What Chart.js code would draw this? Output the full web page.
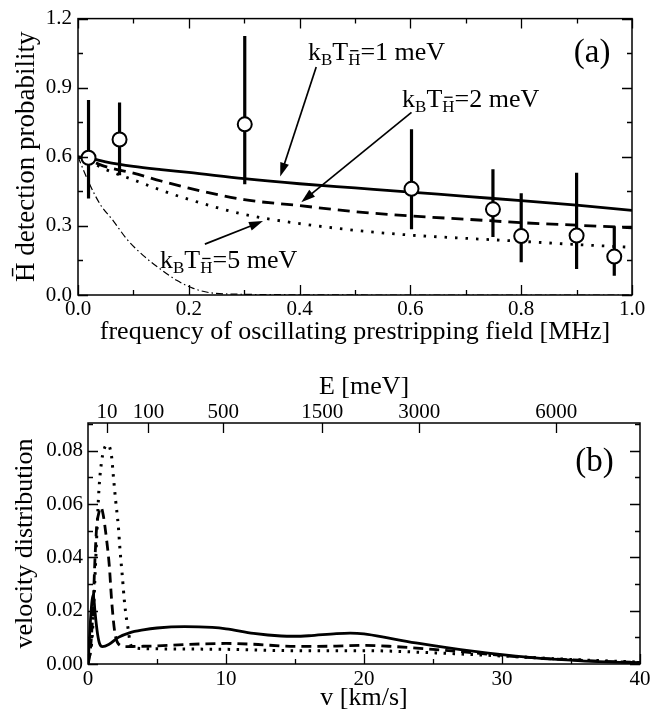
<!DOCTYPE html>
<html>
<head>
<meta charset="utf-8">
<script src="https://cdn.jsdelivr.net/npm/chart.js@4.4.1/dist/chart.umd.min.js"></script>
<style>
  body { margin: 0; background: #fff; width: 662px; height: 715px; overflow: hidden; position: relative; }
  canvas { position: absolute; left: 0; }
  #chartA { top: 0; }
  #chartB { top: 360px; }
</style>
</head>
<body>
<canvas id="chartA" width="662" height="360" style="width:662px;height:360px"></canvas>
<canvas id="chartB" width="662" height="355" style="width:662px;height:355px"></canvas>
<script>
// ---- panel (a): detection probability vs frequency ----
const measFreq = [0.019, 0.075, 0.301, 0.602, 0.749, 0.800, 0.900, 0.968];
const measProb = [0.596, 0.675, 0.741, 0.461, 0.372, 0.256, 0.258, 0.167];
const measLow  = [0.419, 0.520, 0.481, 0.285, 0.252, 0.142, 0.113, 0.084];
const measHigh = [0.847, 0.836, 1.124, 0.720, 0.546, 0.442, 0.531, 0.298];

const curveFreq = [0, 0.02, 0.05, 0.1, 0.15, 0.2, 0.3, 0.4, 0.5, 0.6, 0.7, 0.8, 0.9, 1.0];
const prob1meV  = [0.600, 0.595, 0.578, 0.558, 0.544, 0.532, 0.505, 0.483, 0.465, 0.447, 0.428, 0.410, 0.390, 0.367];
const prob2meV  = [0.600, 0.585, 0.557, 0.529, 0.495, 0.464, 0.414, 0.388, 0.362, 0.343, 0.329, 0.314, 0.303, 0.292];
const prob5meV  = [0.600, 0.580, 0.545, 0.500, 0.455, 0.415, 0.350, 0.310, 0.281, 0.260, 0.246, 0.233, 0.219, 0.207];

const dashDotFreq = [0, 0.02, 0.04, 0.064, 0.088, 0.118, 0.148, 0.178, 0.208, 0.238, 0.3, 0.4, 0.6, 0.8, 1.0];
const dashDotProb = [0.600, 0.486, 0.394, 0.321, 0.243, 0.171, 0.114, 0.064, 0.029, 0.010, 0.003, 0.001, 0, 0, 0];

const freqTicks = [0, 0.1, 0.2, 0.3, 0.4, 0.5, 0.6, 0.7, 0.8, 0.9, 1.0];
const freqLabels = ['0.0', '', '0.2', '', '0.4', '', '0.6', '', '0.8', '', '1.0'];
const probTicks = [0, 0.15, 0.3, 0.45, 0.6, 0.75, 0.9, 1.05, 1.2];
const probLabels = ['0.0', '', '0.3', '', '0.6', '', '0.9', '', '1.2'];

// ---- panel (b): velocity distribution ----
const v1meV = [0, 0.1, 0.2, 0.3, 0.39, 0.5, 0.6, 0.7, 0.85, 1.05, 1.5, 2.2, 3, 4, 5, 7, 9, 10, 12, 14, 15, 16, 18, 19, 20, 22, 24, 26, 28, 30, 32, 34, 36, 38, 40];
const dist1meV = [0, 0.009, 0.018, 0.024, 0.026, 0.020, 0.015, 0.011, 0.0075, 0.0065, 0.0073, 0.0100, 0.0117, 0.0128, 0.0135, 0.0140, 0.0137, 0.0132, 0.0115, 0.0105, 0.0104, 0.0106, 0.0114, 0.0116, 0.0113, 0.0095, 0.0077, 0.0061, 0.0047, 0.0035, 0.0025, 0.0017, 0.0011, 0.0007, 0.0005];

const v2meV = [0, 0.15, 0.27, 0.39, 0.51, 0.63, 0.8, 0.94, 1.1, 1.35, 1.55, 1.71, 1.95, 2.3, 2.8, 3.5, 5, 7, 10, 12, 15, 18, 20, 22, 25, 28, 30, 33, 35, 38, 40];
const dist2meV = [0, 0.004, 0.012, 0.024, 0.040, 0.0515, 0.057, 0.0588, 0.056, 0.0465, 0.0365, 0.024, 0.0116, 0.0071, 0.0065, 0.0066, 0.0068, 0.0073, 0.0077, 0.0074, 0.0066, 0.0067, 0.0070, 0.0066, 0.0055, 0.0042, 0.0032, 0.0021, 0.0016, 0.0009, 0.0006];

const v5meV = [0, 0.3, 0.5, 0.65, 0.8, 1.0, 1.2, 1.43, 1.71, 1.84, 2.0, 2.2, 2.32, 2.49, 2.63, 2.8, 2.92, 3.05, 3.3, 4, 5, 10, 15, 20, 25, 30, 35, 40];
const dist5meV = [0, 0.010, 0.032, 0.050, 0.066, 0.0765, 0.081, 0.0822, 0.0778, 0.0703, 0.0615, 0.0515, 0.0428, 0.0328, 0.024, 0.0165, 0.0128, 0.008, 0.0062, 0.0058, 0.0057, 0.0055, 0.005, 0.005, 0.0042, 0.003, 0.0017, 0.0007];

const speedTicks = [0, 5, 10, 15, 20, 25, 30, 35, 40];
const speedLabels = ['0', '', '10', '', '20', '', '30', '', '40'];
const distTicks = [0, 0.01, 0.02, 0.03, 0.04, 0.05, 0.06, 0.07, 0.08, 0.09];
const distLabels = ['0.00', '', '0.02', '', '0.04', '', '0.06', '', '0.08', ''];
const energyTicks = [10, 100, 500, 1500, 3000, 6000];   // meV
const MEV_PER_KMS2 = 5.21;                               // E = 1/2 m v^2 for H, meV per (km/s)^2

const SERIF = "'Liberation Serif', 'DejaVu Serif', serif";

function pts(xs, ys) {
  return xs.map((x, i) => ({ x: x, y: ys[i] }));
}

function fixedTicks(values) {
  return function (scale) {
    scale.ticks = values.map(v => ({ value: v }));
  };
}

// frame + inward tick marks (xmgrace style)
const frameTicks = {
  id: 'frameTicks',
  afterDraw(chart, args, opts) {
    const { ctx, chartArea: a } = chart;
    const xs = chart.scales.x, ys = chart.scales.y, x2 = chart.scales.x2;
    ctx.save();
    ctx.strokeStyle = '#000';
    ctx.lineWidth = 1.5;
    ctx.strokeRect(a.left, a.top, a.right - a.left, a.bottom - a.top);
    ctx.lineWidth = 1.3;
    ctx.beginPath();
    xs.ticks.forEach(t => {
      const px = Math.round(xs.getPixelForValue(t.value)) + 0.5;
      const len = t.label !== '' ? opts.major : opts.minor;
      ctx.moveTo(px, a.bottom); ctx.lineTo(px, a.bottom - len);
      if (!x2) { ctx.moveTo(px, a.top); ctx.lineTo(px, a.top + len); }
    });
    ys.ticks.forEach(t => {
      const py = Math.round(ys.getPixelForValue(t.value)) + 0.5;
      const len = t.label !== '' ? opts.major : opts.minor;
      ctx.moveTo(a.left, py); ctx.lineTo(a.left + len, py);
      ctx.moveTo(a.right, py); ctx.lineTo(a.right - len, py);
    });
    if (x2) {
      x2.ticks.forEach(t => {
        const px = Math.round(x2.getPixelForValue(t.value)) + 0.5;
        ctx.moveTo(px, a.top); ctx.lineTo(px, a.top + opts.major);
      });
    }
    ctx.stroke();
    ctx.restore();
  }
};

// k_B T_Hbar labels, arrows and panel letter
function drawKT(ctx, x, y, rest) {
  ctx.textAlign = 'left';
  ctx.textBaseline = 'alphabetic';
  ctx.font = '26px ' + SERIF; ctx.fillText('k', x, y); x += ctx.measureText('k').width;
  ctx.font = '17px ' + SERIF; ctx.fillText('B', x, y + 5); x += ctx.measureText('B').width;
  ctx.font = '26px ' + SERIF; ctx.fillText('T', x, y); x += ctx.measureText('T').width;
  ctx.font = '17px ' + SERIF;
  const hw = ctx.measureText('H').width;
  ctx.fillText('H', x, y + 5);
  ctx.fillRect(x + 2, y + 5 - 15, hw - 4, 1.3);
  x += hw;
  ctx.font = '26px ' + SERIF; ctx.fillText(rest, x, y);
}

function drawArrow(ctx, x0, y0, x1, y1) {
  const ang = Math.atan2(y1 - y0, x1 - x0);
  const L = 14, W = 4.5;
  ctx.beginPath();
  ctx.moveTo(x0, y0);
  ctx.lineTo(x1 - Math.cos(ang) * L * 0.8, y1 - Math.sin(ang) * L * 0.8);
  ctx.stroke();
  ctx.beginPath();
  ctx.moveTo(x1, y1);
  ctx.lineTo(x1 - Math.cos(ang) * L + Math.sin(ang) * W, y1 - Math.sin(ang) * L - Math.cos(ang) * W);
  ctx.lineTo(x1 - Math.cos(ang) * L - Math.sin(ang) * W, y1 - Math.sin(ang) * L + Math.cos(ang) * W);
  ctx.closePath();
  ctx.fill();
}

const annotate = {
  id: 'annotate',
  afterDatasetsDraw(chart, args, opts) {
    const { ctx } = chart;
    const xs = chart.scales.x, ys = chart.scales.y;
    const X = v => xs.getPixelForValue(v), Y = v => ys.getPixelForValue(v);
    ctx.save();
    ctx.fillStyle = '#000';
    ctx.strokeStyle = '#000';
    ctx.lineWidth = 1.7;
    (opts.labels || []).forEach(l => {
      drawKT(ctx, X(l.at[0]), Y(l.at[1]), l.text);
      if (l.from) drawArrow(ctx, X(l.from[0]), Y(l.from[1]), X(l.to[0]), Y(l.to[1]));
    });
    if (opts.panel) {
      ctx.font = '33px ' + SERIF;
      ctx.textAlign = 'center';
      ctx.textBaseline = 'middle';
      ctx.fillText(opts.panel.text, X(opts.panel.at[0]), Y(opts.panel.at[1]));
    }
    ctx.restore();
  }
};

Chart.defaults.font.family = SERIF;
Chart.defaults.color = '#000';

const tickFont = { family: SERIF, size: 21 };
const titleFont = { family: SERIF, size: 26 };
const noGrid = { display: false, drawTicks: false };
const noBorder = { display: false };

// ---------------- chart (a) ----------------
new Chart(document.getElementById('chartA'), {
  type: 'scatter',
  data: {
    datasets: [
      {
        data: measFreq.map((f, i) => ({ x: f, y: measProb[i] })),
        pointStyle: 'circle', pointRadius: 7, pointBorderWidth: 2,
        pointBackgroundColor: '#fff', pointBorderColor: '#000',
        showLine: false, order: 1
      },
      {
        data: measFreq.flatMap((f, i) => [{ x: f, y: measLow[i] }, { x: f, y: measHigh[i] }, { x: f, y: null }]),
        showLine: true, spanGaps: false, borderColor: '#000', borderWidth: 3.2,
        pointRadius: 0, order: 2
      },
      {
        data: pts(curveFreq, prob1meV), showLine: true, borderColor: '#000', borderWidth: 2.8,
        pointRadius: 0, cubicInterpolationMode: 'monotone', order: 3
      },
      {
        data: pts(curveFreq, prob2meV), showLine: true, borderColor: '#000', borderWidth: 2.8,
        borderDash: [12, 7], pointRadius: 0, cubicInterpolationMode: 'monotone', order: 3
      },
      {
        data: pts(curveFreq, prob5meV), showLine: true, borderColor: '#000', borderWidth: 2.8,
        borderDash: [2.5, 8], pointRadius: 0, cubicInterpolationMode: 'monotone', order: 3
      },
      {
        data: pts(dashDotFreq, dashDotProb), showLine: true, borderColor: '#000', borderWidth: 1.2,
        borderDash: [7, 3, 1.5, 3], pointRadius: 0, cubicInterpolationMode: 'monotone', order: 4
      }
    ]
  },
  options: {
    responsive: false,
    animation: false,
    events: [],
    layout: { padding: { left: 0, top: 15, right: 30, bottom: 12 } },
    plugins: {
      legend: { display: false },
      tooltip: { enabled: false },
      frameTicks: { major: 10, minor: 5 },
      annotate: {
        labels: [
          { text: '=1 meV', at: [0.415, 1.02], from: [0.43, 0.99], to: [0.365, 0.514] },
          { text: '=2 meV', at: [0.585, 0.818], from: [0.602, 0.793], to: [0.403, 0.403] },
          { text: '=5 meV', at: [0.148, 0.118], from: [0.229, 0.221], to: [0.334, 0.321] }
        ],
        panel: { text: '(a)', at: [0.928, 1.05] }
      }
    },
    scales: {
      x: {
        type: 'linear', min: 0, max: 1,
        grid: noGrid, border: noBorder,
        afterBuildTicks: fixedTicks(freqTicks),
        afterFit: s => { s.height = 53; },
        ticks: { font: tickFont, padding: 2, autoSkip: false, maxRotation: 0,
                 callback: (v, i) => freqLabels[i] },
        title: { display: true, text: 'frequency of oscillating prestripping field [MHz]',
                 font: titleFont, padding: { top: 0, bottom: 0 } }
      },
      y: {
        type: 'linear', min: 0, max: 1.2,
        grid: noGrid, border: noBorder,
        afterBuildTicks: fixedTicks(probTicks),
        afterFit: s => { s.width = 78; },
        ticks: { font: tickFont, padding: 6, autoSkip: false,
                 callback: (v, i) => probLabels[i] },
        title: { display: true, text: 'H\u0304 detection probability',
                 font: { family: SERIF, size: 27 }, padding: { top: 11, bottom: 0 } }
      }
    }
  },
  plugins: [frameTicks, annotate]
});

// ---------------- chart (b) ----------------
new Chart(document.getElementById('chartB'), {
  type: 'scatter',
  data: {
    datasets: [
      {
        data: pts(v1meV, dist1meV), showLine: true, borderColor: '#000', borderWidth: 2.8,
        pointRadius: 0, cubicInterpolationMode: 'monotone'
      },
      {
        data: pts(v2meV, dist2meV), showLine: true, borderColor: '#000', borderWidth: 2.8,
        borderDash: [10, 6], pointRadius: 0, cubicInterpolationMode: 'monotone'
      },
      {
        data: pts(v5meV, dist5meV), showLine: true, borderColor: '#000', borderWidth: 3,
        borderDash: [2.5, 6.5], pointRadius: 0, cubicInterpolationMode: 'monotone'
      }
    ]
  },
  options: {
    responsive: false,
    animation: false,
    events: [],
    layout: { padding: { left: 0, top: 12, right: 22, bottom: 1 } },
    plugins: {
      legend: { display: false },
      tooltip: { enabled: false },
      frameTicks: { major: 10, minor: 5 },
      annotate: { labels: [], panel: { text: '(b)', at: [36.7, 0.0758] } }
    },
    scales: {
      x: {
        type: 'linear', min: 0, max: 40,
        grid: noGrid, border: noBorder,
        afterBuildTicks: fixedTicks(speedTicks),
        afterFit: s => { s.height = 50; },
        ticks: { font: tickFont, padding: 3, autoSkip: false, maxRotation: 0,
                 callback: (v, i) => speedLabels[i] },
        title: { display: true, text: 'v [km/s]', font: titleFont, padding: { top: 0, bottom: 0 } }
      },
      x2: {
        type: 'linear', position: 'top', min: 0, max: 40,
        grid: noGrid, border: noBorder,
        afterBuildTicks: s => { s.ticks = energyTicks.map(e => ({ value: Math.sqrt(e / MEV_PER_KMS2) })); },
        afterFit: s => { s.height = 51; },
        ticks: { font: tickFont, padding: -2, autoSkip: false, maxRotation: 0,
                 callback: (v, i) => String(energyTicks[i]) },
        title: { display: true, text: 'E [meV]', font: titleFont, padding: { top: 0, bottom: 0 } }
      },
      y: {
        type: 'linear', min: 0, max: 0.0904,
        grid: noGrid, border: noBorder,
        afterBuildTicks: fixedTicks(distTicks),
        afterFit: s => { s.width = 88; },
        ticks: { font: tickFont, padding: 5, autoSkip: false,
                 callback: (v, i) => distLabels[i] },
        title: { display: true, text: 'velocity distribution',
                 font: titleFont, padding: { top: 10, bottom: 0 } }
      }
    }
  },
  plugins: [frameTicks, annotate]
});
</script>
</body>
</html>
